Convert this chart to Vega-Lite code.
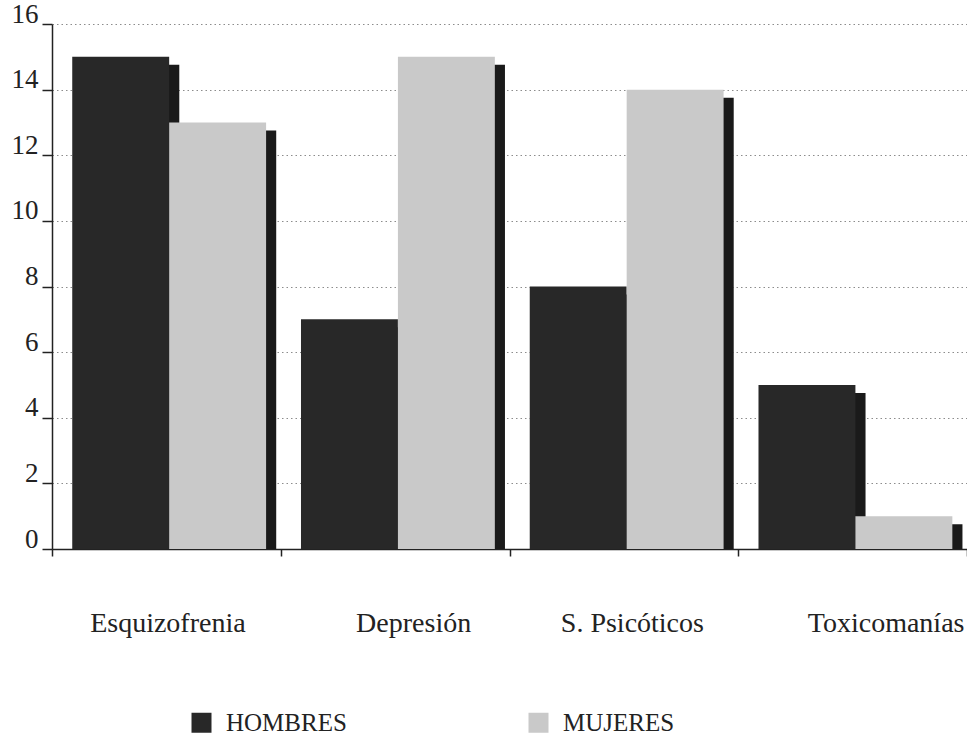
{
  "$schema": "https://vega.github.io/schema/vega-lite/v6.json",
  "width": 915,
  "height": 525,
  "autosize": "none",
  "padding": {"left": 52, "top": 24, "right": 0, "bottom": 189},
  "background": "white",
  "view": {"stroke": null},
  "config": {
    "font": "Liberation Serif"
  },
  "data": {
    "values": [
      {"diagnostico": "Esquizofrenia", "sexo": "HOMBRES", "casos": 15},
      {"diagnostico": "Esquizofrenia", "sexo": "MUJERES", "casos": 13},
      {"diagnostico": "Depresión", "sexo": "HOMBRES", "casos": 7},
      {"diagnostico": "Depresión", "sexo": "MUJERES", "casos": 15},
      {"diagnostico": "S. Psicóticos", "sexo": "HOMBRES", "casos": 8},
      {"diagnostico": "S. Psicóticos", "sexo": "MUJERES", "casos": 14},
      {"diagnostico": "Toxicomanías", "sexo": "HOMBRES", "casos": 5},
      {"diagnostico": "Toxicomanías", "sexo": "MUJERES", "casos": 1}
    ]
  },
  "encoding": {
    "x": {
      "field": "diagnostico",
      "type": "nominal",
      "sort": ["Esquizofrenia", "Depresión", "S. Psicóticos", "Toxicomanías"],
      "scale": {"paddingInner": 0, "paddingOuter": 0},
      "axis": {
        "title": null,
        "labelAngle": 0,
        "labelFont": "Liberation Serif",
        "labelFontSize": 28,
        "labelColor": "#222222",
        "labelBaseline": "alphabetic",
        "labelPadding": 75,
        "labelOffset": {
          "condition": [
            {"test": "datum.value === 'Depresión'", "value": 18},
            {"test": "datum.value === 'S. Psicóticos'", "value": 8},
            {"test": "datum.value === 'Toxicomanías'", "value": 33}
          ],
          "value": 1
        },
        "tickBand": "extent",
        "tickSize": 7,
        "tickColor": "#222222",
        "tickWidth": 1.5,
        "domainColor": "#222222",
        "domainWidth": 1.5,
        "grid": false
      }
    },
    "y": {
      "field": "casos",
      "type": "quantitative",
      "scale": {"domain": [0, 16], "nice": false},
      "axis": {
        "title": null,
        "values": [0, 2, 4, 6, 8, 10, 12, 14, 16],
        "labelFont": "Liberation Serif",
        "labelFontSize": 27,
        "labelColor": "#222222",
        "labelBaseline": "alphabetic",
        "labelOffset": -2,
        "labelPadding": 4,
        "tickSize": 10,
        "tickColor": "#222222",
        "tickWidth": 1.5,
        "domainColor": "#222222",
        "domainWidth": 1.5,
        "grid": true,
        "gridColor": "#8c8c8c",
        "gridDash": [1.5, 3],
        "gridWidth": 1
      }
    }
  },
  "layer": [
    {
      "mark": {"type": "bar", "color": "#1a1a1a", "yOffset": 8, "y2Offset": 0},
      "encoding": {
        "xOffset": {
          "field": "sexo",
          "sort": ["HOMBRES", "MUJERES"],
          "scale": {"paddingInner": 0, "paddingOuter": 0.18, "align": 0.87}
        },
        "y2": {"datum": 0}
      }
    },
    {
      "mark": {"type": "bar"},
      "encoding": {
        "xOffset": {
          "field": "sexo",
          "sort": ["HOMBRES", "MUJERES"],
          "scale": {"paddingInner": 0, "paddingOuter": 0.18, "align": 0.58}
        },
        "color": {
          "field": "sexo",
          "type": "nominal",
          "sort": ["HOMBRES", "MUJERES"],
          "scale": {"domain": ["HOMBRES", "MUJERES"], "range": ["#282828", "#c9c9c9"]},
          "legend": {
            "title": null,
            "orient": "none",
            "direction": "horizontal",
            "legendX": 137,
            "legendY": 686,
            "padding": 0,
            "symbolType": "square",
            "symbolSize": 400,
            "symbolStrokeWidth": 0,
            "symbolOpacity": 1,
            "labelFont": "Liberation Serif",
            "labelFontSize": 25,
            "labelColor": "#222222",
            "labelOffset": 12,
            "columnPadding": 179
          }
        }
      }
    }
  ],
  "resolve": {"scale": {"xOffset": "independent"}}
}
